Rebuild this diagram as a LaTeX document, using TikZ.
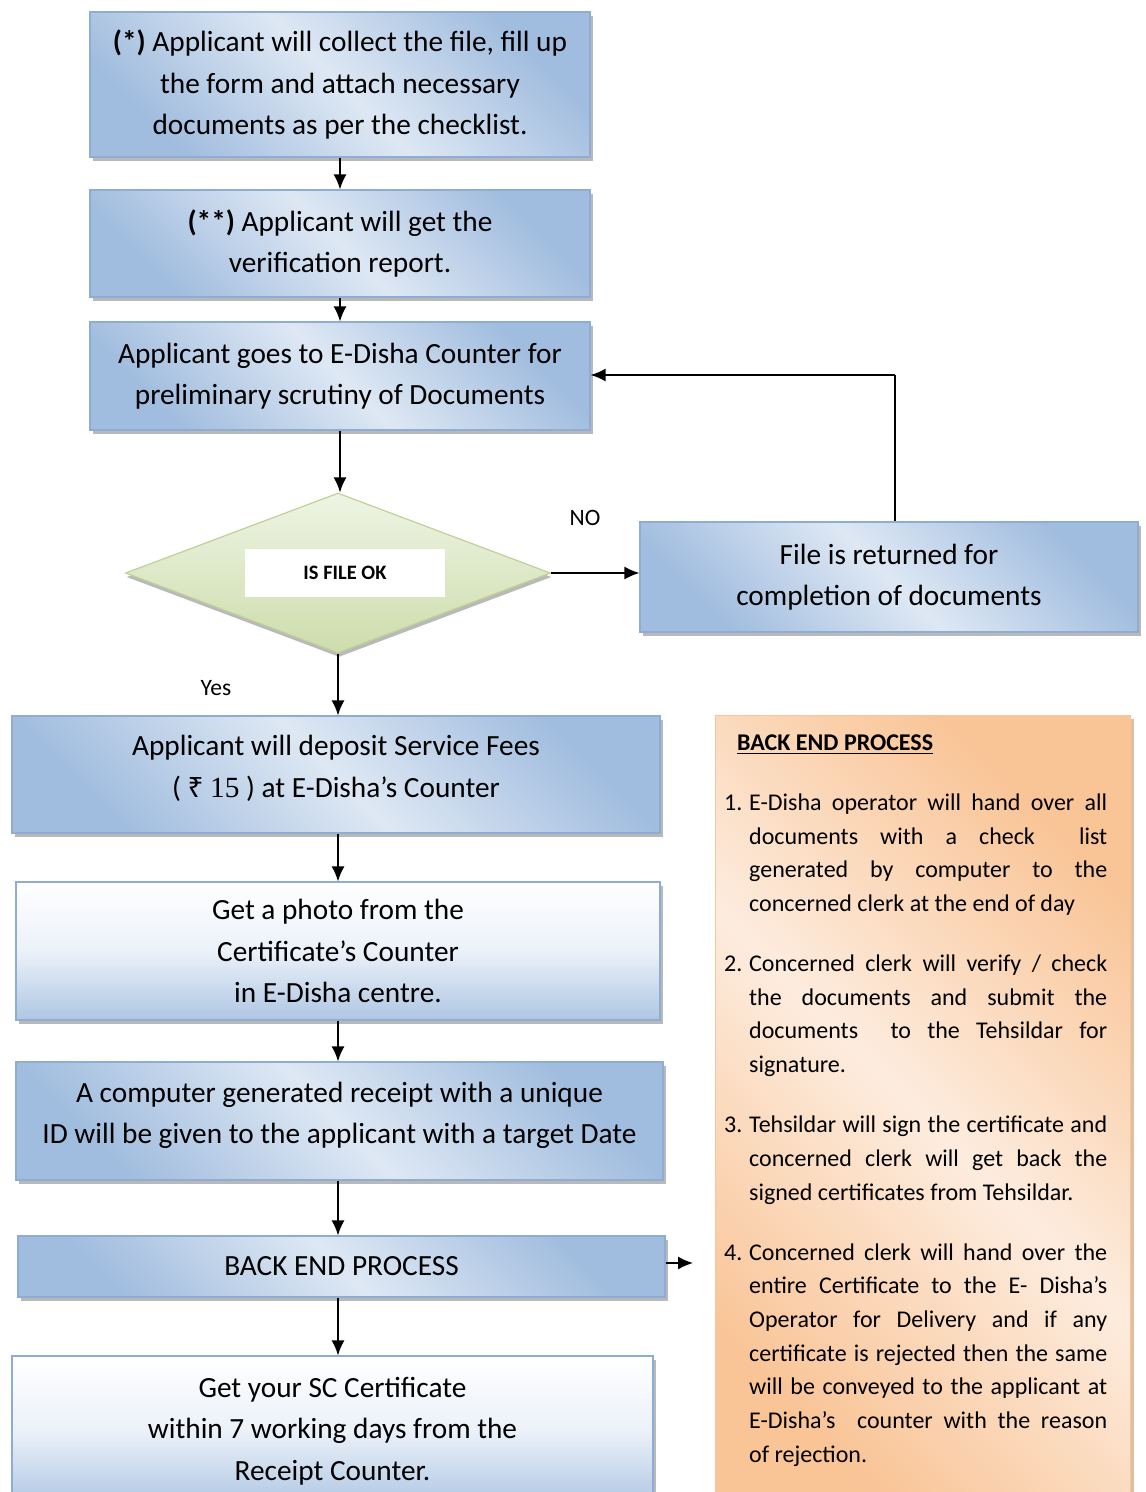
\documentclass[tikz,border=0pt]{standalone}
\usepackage{fontspec}
\setmainfont{Carlito}
\newfontfamily\rupeefont{Liberation Serif}
\newfontfamily\rupeesign{Noto Sans}
\usetikzlibrary{shapes.geometric,arrows.meta,shadows}

\definecolor{boxdark}{RGB}{160,188,222}
\definecolor{boxlight}{RGB}{222,232,244}
\definecolor{boxline}{RGB}{141,173,213}
\definecolor{leafdark}{RGB}{205,221,172}
\definecolor{leaflight}{RGB}{238,244,228}
\definecolor{leafline}{RGB}{190,210,150}
\definecolor{peachdark}{RGB}{249,196,150}
\definecolor{peachlight}{RGB}{253,236,222}
\definecolor{peachline}{RGB}{249,196,150}

\newcommand\stepitem[2]{\par\hangindent=25pt\hangafter=1\noindent\makebox[25pt][l]{#1}#2}
\newcommand\headline[1]{\setbox0\hbox{#1}\rlap{\rule[-4pt]{\wd0}{1.8pt}}\box0}

\tikzset{
  stepbox/.style={draw=boxline, line width=1.2pt, top color=boxdark,
    bottom color=boxdark, middle color=boxlight, shading angle=-45,
    drop shadow={shadow xshift=3pt, shadow yshift=-4pt, fill=gray!55, opacity=1},
    align=center, inner sep=0pt, font=\fontsize{29.3}{41.5}\selectfont},
  paperbox/.style={stepbox, shading angle=0, top color=white,
    bottom color=boxdark!85, middle color=boxlight!60},
  checkshape/.style={diamond, draw=leafline, line width=1.2pt, shading angle=35,
    top color=leaflight, bottom color=leafdark, inner sep=0pt,
    drop shadow={shadow xshift=1pt, shadow yshift=-4pt, fill=gray!55, opacity=1}},
  panel/.style={draw=peachline, line width=1.2pt, top color=peachdark,
    bottom color=peachdark, middle color=peachlight, shading angle=-45,
    drop shadow={shadow xshift=3pt, shadow yshift=-3pt, fill=brown!50, opacity=1}},
  tag/.style={font=\fontsize{23.5}{28}\selectfont, inner sep=0pt},
  flow/.style={line width=1.6pt, -{Latex[length=15pt,width=13pt]}}
}

\begin{document}
\begin{tikzpicture}[x=1pt,y=-1pt]
    \path[use as bounding box] (0,0) rectangle (1146,1492);
    \clip (0,0) rectangle (1146,1492);

    % Applicant side
    \node[stepbox, minimum width=500, minimum height=145] (b1) at (340,84.5)
      {\textbf{(*)} Applicant will collect the file, fill up\\
       the form and attach necessary\\ documents as per the checklist.};
    \node[stepbox, minimum width=500, minimum height=107] (b2) at (340,243.5)
      {\textbf{(**)} Applicant will get the\\ verification report.};
    \node[stepbox, minimum width=500, minimum height=108] (b3) at (340,376)
      {Applicant goes to E-Disha Counter for\\ preliminary scrutiny of Documents};

    % Decision
    \node[checkshape, minimum width=425, minimum height=160] (check) at (338,573) {};
    \node[fill=white, minimum width=200, minimum height=48, inner sep=0pt,
      font=\fontsize{20.5}{24}\selectfont\bfseries] (checktext) at (345,573) {IS FILE OK};
    \node[stepbox, minimum width=498, minimum height=110] (b4) at (889,577)
      {File is returned for\\ completion of documents};
    \node[tag] (no) at (585,518) {NO};
    \node[tag] (yes) at (216,688) {Yes};

    % Counter side
    \node[stepbox, minimum width=648, minimum height=117] (b5) at (336,774.5)
      {Applicant will deposit Service Fees\\
       ( {\rupeesign\fontsize{28}{30}\selectfont ₹} {\rupeefont 15} ) at E-Disha’s Counter\rule[-16pt]{0pt}{16pt}};
    \node[paperbox, minimum width=644, minimum height=138] (b6) at (338,951)
      {Get a photo from the\\ Certificate’s Counter\\ in E-Disha centre.};
    \node[stepbox, minimum width=647, minimum height=118] (b7) at (339.5,1121)
      {A computer generated receipt with a unique\\
       ID will be given to the applicant with a target Date\rule[-16pt]{0pt}{16pt}};
    \node[stepbox, minimum width=647, minimum height=61] (b8) at (341.5,1266.5)
      {BACK END PROCESS};
    \node[paperbox, minimum width=641, minimum height=150] (b9) at (332.5,1431)
      {Get your SC Certificate\\ within 7 working days from the\\ Receipt Counter.\vphantom{g}};

    % Back end panel
    \node[panel, anchor=north west, minimum width=415, minimum height=800] (backpanel)
      at (715,715) {};
    \node[anchor=north west, text width=383, align=justify, inner sep=0pt,
      font=\fontsize{24}{33.7}\selectfont] (steps) at (724,734.5)
      {\hyphenpenalty=10000 \exhyphenpenalty=10000 \tolerance=10000 \hbadness=10000
       \setlength\parskip{26.3pt}%
       \noindent\hspace*{13pt}\textbf{\headline{BACK END PROCESS}}
       \stepitem{1.}{E-Disha operator will hand over all\linebreak
         documents with a check\ \ list\linebreak
         generated by computer to the\linebreak
         concerned clerk at the end of day}
       \stepitem{2.}{Concerned clerk will verify / check\linebreak
         the documents and submit the\linebreak
         documents\ \ to the Tehsildar for\linebreak
         signature.}
       \stepitem{3.}{Tehsildar will sign the certificate and\linebreak
         concerned clerk will get back the\linebreak
         signed certificates from Tehsildar.}
       \stepitem{4.}{Concerned clerk will hand over the\linebreak
         entire Certificate to the E- Disha’s\linebreak
         Operator for Delivery and if any\linebreak
         certificate is rejected then the same\linebreak
         will be conveyed to the applicant at\linebreak
         E-Disha’s\ \ counter with the reason\linebreak
         of rejection.}\par};

    % Arrows
    \coordinate (turn) at (895,375);
    \coordinate (handover) at (693,1263);
    \draw[flow] (b1) -- (b2);
    \draw[flow] (b2) -- (b3);
    \draw[flow] (b3) -- (b3 |- check.north);
    \draw[flow] (check.east) -- (check.east -| b4.west);
    \draw[line width=1.6pt] (b4.north -| turn) -- (turn);
    \draw[flow] (turn) -- (b3.east |- turn);
    \draw[flow] (check.south) -- (check.south |- b5.north);
    \draw[flow] (b5.south -| b6) -- (b6.north);
    \draw[flow] (b6.south) -- (b6.south |- b7.north);
    \draw[flow] (b7.south -| b6) -- (b6 |- b8.north);
    \draw[flow] (b8.south -| b6) -- (b6 |- b9.north);
    \draw[flow] (b8.east |- handover) -- (handover);
\end{tikzpicture}
\end{document}
